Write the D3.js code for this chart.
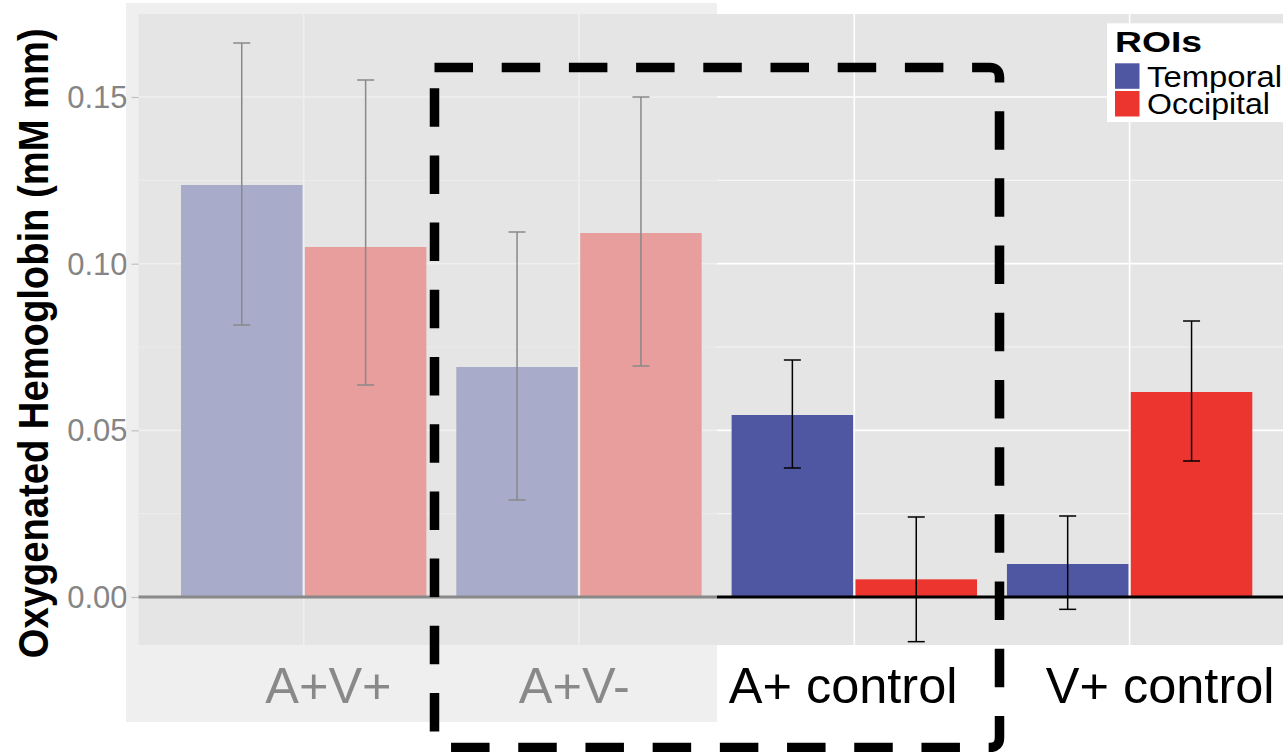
<!DOCTYPE html>
<html>
<head>
<meta charset="utf-8">
<script src="https://cdn.jsdelivr.net/npm/d3@7"></script>
<style>
  html, body { margin: 0; padding: 0; background: #ffffff; }
  svg { display: block; font-family: "Liberation Sans", Arial, Helvetica, sans-serif; }
</style>
</head>
<body>
<script>
// ---- data ----
const categories = ["A+V+", "A+V-", "A+ control", "V+ control"];
const series = ["Temporal", "Occipital"];
const temporalMean = [0.1236, 0.0690, 0.0546, 0.0099];
const temporalLow  = [0.0816, 0.0291, 0.0387, -0.0037];
const temporalHigh = [0.1662, 0.1095, 0.0711, 0.0243];
const occipitalMean = [0.1050, 0.1092, 0.0053, 0.0615];
const occipitalLow  = [0.0636, 0.0693, -0.0134, 0.0408];
const occipitalHigh = [0.1551, 0.1500, 0.0240, 0.0828];
const yTicks = [0, 0.05, 0.10, 0.15];
const yMinorTicks = [0.025, 0.075, 0.125];
const yTitle = "Oxygenated Hemoglobin (mM mm)";
const legendTitle = "ROIs";

// ---- layout ----
const W = 1283, H = 752;
const panel = { left: 138.5, right: 1294.8, top: 14, bottom: 645 };
const colors = { Temporal: "#4f57a3", Occipital: "#ed3530" };
const labelNudge = [24.7, -4.7, -11.2, 30.5];   // hand placement of category labels
const fadeBox = { x0: 126, x1: 717, y0: 3, y1: 722 };
const highlight = { x0: 434.5, x1: 999.5, y0: 67.5, y1: 747.5, r: 10 };

const rows = [];
categories.forEach((c, i) => {
  rows.push({ cat: c, s: "Temporal", v: temporalMean[i], lo: temporalLow[i], hi: temporalHigh[i] });
  rows.push({ cat: c, s: "Occipital", v: occipitalMean[i], lo: occipitalLow[i], hi: occipitalHigh[i] });
});

const svg = d3.select("body").append("svg").attr("width", W).attr("height", H);
svg.append("rect").attr("width", W).attr("height", H).attr("fill", "#ffffff");

const y = d3.scaleLinear().domain([-0.0144, 0.1749]).range([panel.bottom, panel.top]);
const x = d3.scaleBand().domain(categories).range([panel.left, panel.right])
  .paddingInner(0).paddingOuter(0.1);
const dodge = x.bandwidth() * 0.9;
const xs = d3.scaleBand().domain(series).range([0, dodge]);
const barX = d => x(d.cat) + (x.bandwidth() - dodge) / 2 + xs(d.s);

// panel background
svg.append("rect")
  .attr("x", panel.left).attr("y", panel.top)
  .attr("width", panel.right - panel.left).attr("height", panel.bottom - panel.top)
  .attr("fill", "#e5e5e5");

// grid
const grid = svg.append("g");
grid.selectAll("line.minor").data(yMinorTicks).join("line")
  .attr("x1", panel.left).attr("x2", panel.right)
  .attr("y1", d => y(d)).attr("y2", d => y(d))
  .attr("stroke", "#f5f5f5").attr("stroke-width", 1.1);
grid.selectAll("line.major").data(yTicks).join("line")
  .attr("x1", panel.left).attr("x2", panel.right)
  .attr("y1", d => y(d)).attr("y2", d => y(d))
  .attr("stroke", "#ffffff").attr("stroke-width", 1.6);
grid.selectAll("line.vert").data(categories).join("line")
  .attr("x1", d => x(d) + x.bandwidth() / 2).attr("x2", d => x(d) + x.bandwidth() / 2)
  .attr("y1", panel.top).attr("y2", panel.bottom)
  .attr("stroke", "#ffffff").attr("stroke-width", 1.6);

// bars
svg.append("g").selectAll("rect").data(rows).join("rect")
  .attr("x", d => barX(d) + 1.2)
  .attr("width", xs.bandwidth() - 2.4)
  .attr("y", d => y(Math.max(0, d.v)))
  .attr("height", d => Math.abs(y(d.v) - y(0)))
  .attr("fill", d => colors[d.s]);

// error bars
const capW = 17;
const eb = svg.append("g").attr("stroke", "#000").attr("stroke-width", 1.5).attr("fill", "none");
rows.forEach(d => {
  const cx = barX(d) + xs.bandwidth() / 2;
  eb.append("line").attr("x1", cx).attr("x2", cx).attr("y1", y(d.hi)).attr("y2", y(d.lo));
  eb.append("line").attr("x1", cx - capW / 2).attr("x2", cx + capW / 2).attr("y1", y(d.hi)).attr("y2", y(d.hi));
  eb.append("line").attr("x1", cx - capW / 2).attr("x2", cx + capW / 2).attr("y1", y(d.lo)).attr("y2", y(d.lo));
});

// zero reference line
svg.append("line")
  .attr("x1", panel.left).attr("x2", panel.right)
  .attr("y1", y(0)).attr("y2", y(0))
  .attr("stroke", "#000").attr("stroke-width", 3);

// y axis
const yAxis = svg.append("g").attr("transform", `translate(${panel.left},0)`)
  .call(d3.axisLeft(y).tickValues(yTicks).tickFormat(d3.format(".2f")).tickSizeOuter(0).tickSize(7).tickPadding(4));
yAxis.select(".domain").remove();
yAxis.selectAll(".tick line").attr("stroke", "#8a8a8a").attr("stroke-width", 1.2);
yAxis.selectAll(".tick text")
  .attr("fill", "#858585").attr("font-size", 31)
  .attr("font-family", "Liberation Sans, Arial, sans-serif")
  .attr("dy", "0.34em");

// y title
svg.append("text")
  .attr("transform", `translate(48,${343.3}) rotate(-90)`)
  .attr("text-anchor", "middle")
  .attr("font-size", 42).attr("font-weight", "bold").attr("fill", "#000")
  .attr("textLength", 630).attr("lengthAdjust", "spacingAndGlyphs")
  .text(yTitle);

// category labels
svg.append("g").selectAll("text").data(categories).join("text")
  .attr("x", (d, i) => x(d) + x.bandwidth() / 2 + labelNudge[i])
  .attr("y", 703)
  .attr("text-anchor", "middle")
  .attr("font-size", 50.5).attr("fill", "#000")
  .text(d => d);

// legend
const lg = svg.append("g");
lg.append("rect").attr("x", 1107).attr("y", 23.3).attr("width", 200).attr("height", 98.7).attr("fill", "#ffffff");
lg.append("text").attr("x", 1115).attr("y", 52.3)
  .attr("font-size", 30).attr("font-weight", "bold")
  .attr("textLength", 87).attr("lengthAdjust", "spacingAndGlyphs")
  .text(legendTitle);
const keyTop = [63.3, 91];
const keyLen = [135, 123];
series.forEach((s, i) => {
  lg.append("rect").attr("x", 1115).attr("y", keyTop[i]).attr("width", 24.5).attr("height", 25.5)
    .attr("fill", colors[s]);
  lg.append("text").attr("x", 1147).attr("y", keyTop[i] + 23.3)
    .attr("font-size", 29.5)
    .attr("textLength", keyLen[i]).attr("lengthAdjust", "spacingAndGlyphs")
    .text(s);
});

// faded region over the first two conditions
svg.append("rect")
  .attr("x", fadeBox.x0).attr("y", fadeBox.y0)
  .attr("width", fadeBox.x1 - fadeBox.x0).attr("height", fadeBox.y1 - fadeBox.y0)
  .attr("fill", "#e5e5e5").attr("fill-opacity", 0.6);

// dashed highlight box
const h = highlight;
const p = d3.path();
p.moveTo(h.x0, h.y0);
p.lineTo(h.x1 - h.r, h.y0);
p.quadraticCurveTo(h.x1, h.y0, h.x1, h.y0 + h.r);
p.lineTo(h.x1, h.y1 - h.r);
p.quadraticCurveTo(h.x1, h.y1, h.x1 - h.r, h.y1);
p.lineTo(h.x0 + h.r, h.y1);
p.quadraticCurveTo(h.x0, h.y1, h.x0, h.y1 - h.r);
p.lineTo(h.x0, h.y0);
svg.append("path").attr("d", p.toString())
  .attr("fill", "none").attr("stroke", "#000").attr("stroke-width", 9.5)
  .attr("stroke-dasharray", "38.5 28.7").attr("stroke-linejoin", "round");
</script>
</body>
</html>
